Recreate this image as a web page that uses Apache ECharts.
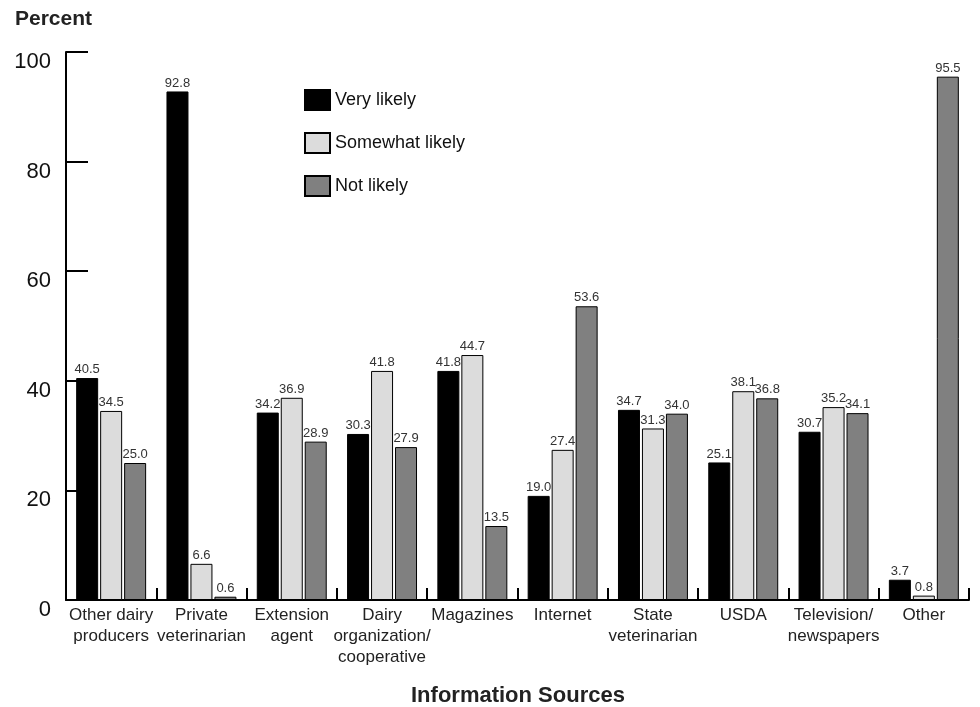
<!DOCTYPE html>
<html><head><meta charset="utf-8">
<script src="https://cdn.jsdelivr.net/npm/echarts@6/dist/echarts.min.js"></script>
<style>html,body{margin:0;padding:0;background:#fff}#c{width:980px;height:707px}</style>
</head><body><div id="c"></div>
<script>
var categories = ["Other dairy\nproducers","Private\nveterinarian","Extension\nagent","Dairy\norganization/\ncooperative","Magazines","Internet","State\nveterinarian","USDA","Television/\nnewspapers","Other"];
var veryLikely = [40.5, 92.8, 34.2, 30.3, 41.8, 19.0, 34.7, 25.1, 30.7, 3.7];
var somewhatLikely = [34.5, 6.6, 36.9, 41.8, 44.7, 27.4, 31.3, 38.1, 35.2, 0.8];
var notLikely = [25.0, 0.6, 28.9, 27.9, 13.5, 53.6, 34.0, 36.8, 34.1, 95.5];
var yTicks = [0, 20, 40, 60, 80, 100];

var FONT = "'Liberation Sans', Arial, sans-serif";
var chart = echarts.init(document.getElementById('c'), null, {renderer:'canvas'});
function mk(name, data, color){
  return {
    name: name, type: 'bar', data: data, barWidth: 22, barGap: '9%',
    itemStyle: {color: color, borderColor: '#000', borderWidth: 1},
    label: {show: true, position: 'top', distance: 2, fontFamily: FONT, fontSize: 13, color: '#333',
      formatter: function(p){ return p.value.toFixed(1); }}
  };
}
chart.setOption({
  animation: false,
  textStyle: {fontFamily: FONT},
  title: [
    {text: 'Percent', left: 10, top: 4, textStyle: {fontFamily: FONT, fontSize: 21, fontWeight: 'bold', color: '#222'}},
    {text: 'Information Sources', left: 406, top: 680, textStyle: {fontFamily: FONT, fontSize: 22, fontWeight: 'bold', color: '#222'}}
  ],
  legend: {
    orient: 'vertical', left: 299, top: 84, itemWidth: 25, itemHeight: 20, itemGap: 21, icon: 'rect',
    textStyle: {fontFamily: FONT, fontSize: 18, color: '#111'},
    data: ['Very likely', 'Somewhat likely', 'Not likely']
  },
  grid: {left: 66, right: 11, top: 52, bottom: 107, containLabel: false},
  xAxis: {
    type: 'category', data: categories,
    axisLine: {lineStyle: {color: '#000', width: 2}},
    axisTick: {show: true, inside: true, length: 12, lineStyle: {color: '#000', width: 2}},
    axisLabel: {fontFamily: FONT, fontSize: 17, color: '#222', lineHeight: 21, margin: 5, interval: 0}
  },
  yAxis: {
    type: 'value', min: 0, max: 100, interval: 20,
    axisLine: {show: true, lineStyle: {color: '#000', width: 2}},
    axisTick: {show: true, inside: true, length: 22, lineStyle: {color: '#000', width: 2}},
    splitLine: {show: false},
    axisLabel: {fontFamily: FONT, fontSize: 22, color: '#111', margin: 15, verticalAlign: 'top', lineHeight: 20,
      formatter: function(v){ return yTicks.indexOf(v) >= 0 ? String(v) : ''; }}
  },
  series: [
    mk('Very likely', veryLikely, '#000000'),
    mk('Somewhat likely', somewhatLikely, '#dcdcdc'),
    mk('Not likely', notLikely, '#808080')
  ]
});
</script></body></html>
